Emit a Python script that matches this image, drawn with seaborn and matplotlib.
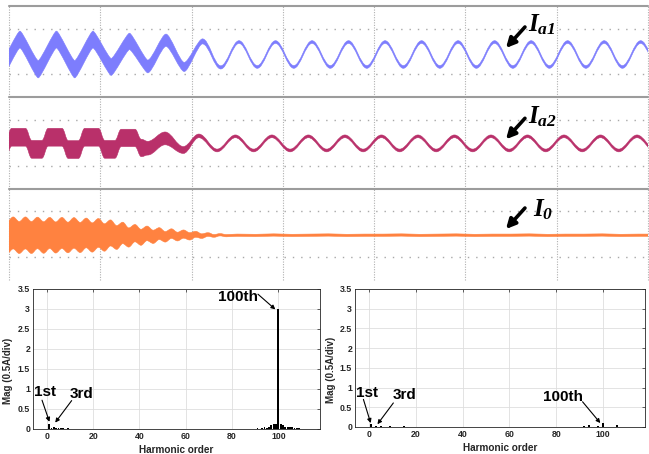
import numpy as np
import matplotlib
matplotlib.use("Agg")
import matplotlib.pyplot as plt
import seaborn as sns
from matplotlib.path import Path
from matplotlib.patches import PathPatch

# ---------------- data ----------------
# scope traces: extrema times (ms, 50 ms/div), centre value (div), half band width (div)
ia1_t = [-4, 6, 16, 26, 36, 46, 56, 66, 76, 86, 96, 106, 116, 126, 136, 146, 156, 166, 176,
         186, 196, 206, 216, 226, 236, 246, 256, 266, 276, 286, 296, 306, 316, 326, 336, 346, 356]
ia1_mid = [-0.76, 0.53, -0.77, 0.53, -0.77, 0.53, -0.67, 0.45, -0.65, 0.50, -0.67, 0.45, -0.69,
           0.42, -0.67, 0.42, -0.67, 0.42, -0.67, 0.42, -0.67, 0.42, -0.67, 0.42, -0.67, 0.42,
           -0.67, 0.42, -0.67, 0.42, -0.67, 0.42, -0.67, 0.42, -0.67, 0.42, -0.67]
ia1_hw = [0.38, 0.37, 0.38, 0.37, 0.38, 0.37, 0.37, 0.36, 0.28, 0.27, 0.20, 0.11, 0.07,
          0.06, 0.06, 0.06, 0.06, 0.06, 0.06, 0.06, 0.06, 0.06, 0.06, 0.06, 0.06, 0.06,
          0.06, 0.06, 0.06, 0.06, 0.06, 0.06, 0.06, 0.06, 0.06, 0.06, 0.06]

ia2_t = [-2, 1.5, 9, 12.5, 18, 21.5, 29, 32.5, 38, 41.5, 49, 52.5, 58, 61.5, 69, 72.5, 76,
         85.5, 95.5, 104, 114, 124, 134, 144, 154, 164, 174, 184, 194, 204, 214, 224, 234,
         244, 254, 264, 274, 284, 294, 304, 314, 324, 334, 344, 354]
ia2_mid = [-0.28, 0.25, 0.25, -0.28, -0.28, 0.25, 0.25, -0.29, -0.29, 0.25, 0.25, -0.28, -0.28,
           0.22, 0.22, -0.22, -0.23, 0.20, -0.31, 0.31, -0.33, 0.29, -0.33, 0.29, -0.33, 0.29,
           -0.33, 0.29, -0.33, 0.29, -0.33, 0.29, -0.33, 0.29, -0.33, 0.29, -0.33, 0.29, -0.33,
           0.29, -0.33, 0.29, -0.33, 0.29, -0.33]
ia2_hw = [0.39, 0.39, 0.39, 0.39, 0.39, 0.39, 0.39, 0.39, 0.39, 0.39, 0.39, 0.39, 0.39, 0.38,
          0.38, 0.38, 0.30, 0.28, 0.15, 0.08, 0.06, 0.06, 0.06, 0.06, 0.06, 0.06, 0.06, 0.06,
          0.06, 0.06, 0.06, 0.06, 0.06, 0.06, 0.06, 0.06, 0.06, 0.06, 0.06, 0.06, 0.06, 0.06,
          0.06, 0.06, 0.06]

i0_t = [-1.0, 2.3, 5.6, 9.0, 12.3, 15.6, 19.0, 22.3, 25.6, 29.0, 32.3, 35.6, 39.0, 42.3,
        45.6, 49.0, 52.3, 55.6, 59.0, 62.3, 65.6, 69.0, 72.3, 75.6, 79.0, 82.3, 85.6, 89.0,
        92.3, 95.6, 99.0, 102.3, 105.6, 109.0, 112.3, 115.6, 119.0, 125, 135, 145, 155, 165,
        175, 185, 195, 205, 215, 225, 235, 245, 255, 265, 275, 285, 295, 305, 315, 325, 335,
        345, 355]
i0_mid = [-0.14, 0.06, -0.14, 0.06, -0.14, 0.06, -0.14, 0.06, -0.14, 0.06, -0.14, 0.06, -0.14,
          0.06, -0.14, 0.06, -0.14, 0.06, -0.14, 0.06, -0.14, 0.05, -0.13, 0.04, -0.11, 0.03,
          -0.11, 0.03, -0.10, 0.01, -0.09, 0.00, -0.08, -0.01, -0.07, -0.02, -0.06, -0.04,
          -0.05, -0.03, -0.05, -0.04, -0.03, -0.05, -0.04, -0.04, -0.03, -0.05, -0.04, -0.03,
          -0.05, -0.04, -0.04, -0.03, -0.05, -0.04, -0.04, -0.03, -0.05, -0.04, -0.04]
i0_hw = [0.70, 0.70, 0.70, 0.70, 0.70, 0.69, 0.69, 0.68, 0.68, 0.68, 0.67, 0.67, 0.66, 0.65,
         0.64, 0.63, 0.60, 0.57, 0.52, 0.47, 0.42, 0.38, 0.35, 0.32, 0.29, 0.26, 0.23, 0.21,
         0.19, 0.18, 0.16, 0.13, 0.10, 0.08, 0.06, 0.05, 0.05, 0.05, 0.05, 0.05, 0.05, 0.05,
         0.05, 0.05, 0.05, 0.05, 0.05, 0.05, 0.05, 0.05, 0.05, 0.05, 0.05, 0.05, 0.05, 0.05,
         0.05, 0.05, 0.05, 0.05, 0.05]

trace_labels = [r"$I_{a1}$", r"$I_{a2}$", r"$I_{0}$"]

# harmonic spectra
orders_before = [1, 2, 3, 4, 5, 6, 7, 8, 9, 10, 11, 13, 15, 17, 85, 87, 89, 91, 93, 94, 95, 96,
                 97, 98, 99, 100, 101, 102, 103, 104, 105, 106, 107, 108, 109, 111, 113]
mags_before = [0.12, 0.03, 0.05, 0.02, 0.03, 0.02, 0.02, 0.01, 0.03, 0.01, 0.01, 0.01, 0.01,
               0.01, 0.01, 0.01, 0.01, 0.015, 0.02, 0.04, 0.03, 0.04, 0.10, 0.12, 0.12, 3.0,
               0.12, 0.11, 0.06, 0.05, 0.04, 0.06, 0.03, 0.02, 0.02, 0.01, 0.01]
orders_after = [1, 2, 3, 4, 5, 6, 7, 8, 9, 11, 13, 15, 17, 86, 88, 90, 92, 94, 96, 98, 100,
                102, 104, 106, 110, 114]
mags_after = [0.08, 0.01, 0.02, 0.01, 0.015, 0.005, 0.01, 0.005, 0.03, 0.01, 0.01, 0.02, 0.01,
              0.01, 0.01, 0.01, 0.015, 0.06, 0.01, 0.015, 0.10, 0.01, 0.01, 0.04, 0.01, 0.01]
x_ticks = [0, 20, 40, 60, 80, 100]
y_ticks = [0, 0.5, 1, 1.5, 2, 2.5, 3, 3.5]
y_tick_labels = ["0", "0.5", "1", "1.5", "2", "2.5", "3", "3.5"]

# ---------------- style ----------------
sns.set_theme(style="white")
plt.rcParams["font.family"] = ["Liberation Sans", "DejaVu Sans"]
plt.rcParams["font.weight"] = "bold"
plt.rcParams["axes.labelweight"] = "bold"
plt.rcParams["mathtext.fontset"] = "custom"
plt.rcParams["mathtext.it"] = "Liberation Serif:italic:bold"
plt.rcParams["mathtext.rm"] = "Liberation Serif:italic:bold"

W, H = 649, 454
fig = plt.figure(figsize=(W / 100, H / 100), dpi=100)
fig.patch.set_facecolor("white")


def fpos(x0, y0, x1, y1):
    return [x0 / W, 1 - y1 / H, (x1 - x0) / W, (y1 - y0) / H]


def band(ax, t, mid, hw, kfun, color):
    t = np.asarray(t, float)
    mid = np.asarray(mid, float)
    hw = np.asarray(hw, float)

    def seg(y):
        v = [(t[0], y[0])]
        for i in range(len(t) - 1):
            d = t[i + 1] - t[i]
            k = kfun(t[i + 1])
            v += [(t[i] + k * d, y[i]), (t[i + 1] - k * d, y[i + 1]), (t[i + 1], y[i + 1])]
        return v

    vu = seg(mid + hw)
    vl = seg(mid - hw)[::-1]
    verts = vu + vl + [vu[0]]
    codes = ([Path.MOVETO] + [Path.CURVE4] * (len(vu) - 1) + [Path.LINETO]
             + [Path.CURVE4] * (len(vl) - 1) + [Path.CLOSEPOLY])
    ax.add_patch(PathPatch(Path(verts, codes), facecolor=color, edgecolor=color,
                           lw=0.4, zorder=3))


traces = [
    (ia1_t, ia1_mid, ia1_hw, lambda te: 0.15 if te <= 76 else (0.25 if te <= 106 else 0.3642), "#7d7dfd"),
    (ia2_t, ia2_mid, ia2_hw, lambda te: 0.42 if te <= 76 else 0.3642, "#b9306a"),
    (i0_t, i0_mid, i0_hw, lambda te: 0.3642, "#ff8240"),
]

panel_px = [(9, 6, 648, 97.3), (9, 97.3, 648, 188.6), (9, 188.6, 648, 280)]
label_y = [0.87, 0.87, 0.77]
label_x = [284, 284, 287]
arrow_tail = [(282.6, 1.08), (282.6, 1.08), (282.6, 1.15)]
arrow_head = [(272.2, 0.16), (272.2, 0.16), (272.2, 0.23)]

for p, (t, mid, hw, kfun, color), lab, lx, ly, at, ah in zip(
        panel_px, traces, trace_labels, label_x, label_y, arrow_tail, arrow_head):
    ax = fig.add_axes(fpos(*p))
    ax.set_xlim(0, 350)
    ax.set_ylim(-2, 2)
    ax.set_axis_off()
    for xv in [0, 50, 100, 150, 200, 250, 300, 350]:
        ax.axvline(xv, color="#b0b0b0", lw=0.8, ls=(0, (1, 1.3)), clip_on=False, zorder=1)
    for yv in [-1, 1]:
        ax.axhline(yv, color="#a8a8a8", lw=1.0, ls=(0, (1, 5)), zorder=1)
    ax.axhline(2, color="#9c9c9c", lw=1.5, clip_on=False, zorder=2)
    band(ax, t, mid, hw, kfun, color)
    ax.text(lx, ly, lab, fontsize=18, ha="left", va="baseline", color="black", zorder=5)
    ax.annotate("", xy=ah, xytext=at,
                arrowprops=dict(arrowstyle="-|>", color="black", lw=2.6,
                                mutation_scale=14, shrinkA=0, shrinkB=0), zorder=5)

# ---------------- spectra ----------------
bar_axes = [fpos(33, 289, 320, 429), fpos(355, 289, 645, 427)]
spectra = [(orders_before, mags_before), (orders_after, mags_after)]
notes = [
    [("1st", (-0.7, 0.92), (-2.1, 0.72), (1.1, 0.18)),
     ("3rd", (15, 0.87), (10.7, 0.71), (3.6, 0.16)),
     ("100th", (82.7, 3.31), (91.2, 3.37), (98.7, 2.99))],
    [("1st", (-1.0, 0.87), (-2.4, 0.70), (0.7, 0.10)),
     ("3rd", (15, 0.80), (10.4, 0.61), (3.6, 0.07)),
     ("100th", (82.8, 0.76), (91.3, 0.64), (98.9, 0.10))],
]
ylab_x = [-0.068, -0.066]

for pos, (orders, mags), nts, ylx in zip(bar_axes, spectra, notes, ylab_x):
    ax = fig.add_axes(pos)
    sns.barplot(x=orders, y=mags, native_scale=True, color="black", width=0.8,
                errorbar=None, saturation=1, linewidth=0, ax=ax)
    ax.set_xlim(-6, 118)
    ax.set_ylim(0, 3.5)
    ax.set_xticks(x_ticks)
    ax.set_xticklabels([str(v) for v in x_ticks])
    ax.set_yticks(y_ticks)
    ax.set_yticklabels(y_tick_labels)
    ax.set_axisbelow(True)
    ax.grid(True, color="#dedede", lw=0.6)
    for s in ax.spines.values():
        s.set_visible(True)
        s.set_color("#262626")
        s.set_linewidth(0.6)
    ax.tick_params(axis="both", direction="in", length=2.5, width=0.5, labelsize=6.3,
                   colors="#262626", top=True, right=True, pad=2.0)
    for tl in ax.get_xticklabels() + ax.get_yticklabels():
        tl.set_fontweight("bold")
    ax.set_xlabel("Harmonic order", fontsize=7.2, fontweight="bold", color="#262626")
    ax.set_ylabel("Mag (0.5A/div)", fontsize=7.0, fontweight="bold", color="#262626")
    ax.xaxis.set_label_coords(0.5, -0.115)
    ax.yaxis.set_label_coords(ylx, 0.415)
    for txt, tp, tail, head in nts:
        ax.text(tp[0], tp[1], txt, fontsize=11, fontweight="bold", ha="center",
                va="center", color="black")
        ax.annotate("", xy=head, xytext=tail,
                    arrowprops=dict(arrowstyle="-|>", color="black", lw=0.8,
                                    mutation_scale=6, shrinkA=0, shrinkB=0))

fig.savefig("out.png", dpi=100)
